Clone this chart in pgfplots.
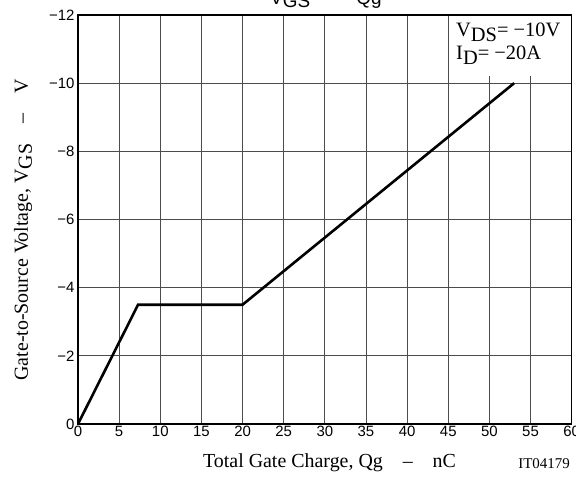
\documentclass[border=0pt]{standalone}
\usepackage{pgfplots}
\pgfplotsset{compat=1.18}
\usepackage{fontspec}
\setmainfont{Liberation Serif}
\newfontfamily\sans{Liberation Sans}
\begin{document}
\begin{tikzpicture}
\clip[use as bounding box] (-78bp,-53bp) rectangle (498bp,424bp);
\begin{axis}[
  at={(0,0)}, anchor=south west,
  scale only axis, width=493.7bp, height=409bp,
  xmin=0, xmax=60, ymin=-12, ymax=0, y dir=reverse,
  xtick={0,5,...,60},
  xticklabels={0,5,10,15,20,25,30,35,40,45,50,55,60},
  ytick={0,-2,-4,-6,-8,-10,-12},
  yticklabels={0,−2,−4,−6,−8,−10,−12},
  grid=major,
  grid style={black!70, line width=0.8bp},
  axis line style={line width=1.2bp},
  major tick length=0pt,
  tick label style={font=\sans\fontsize{15}{15}\selectfont},
  xticklabel style={yshift=1bp},
  yticklabel style={xshift=0bp},
]
\addplot[black, line width=2.6bp] coordinates {(0,0) (7.3,-3.5) (20,-3.5) (53,-10)};
\fill[white] (axis cs:45.15,-11.96) rectangle (axis cs:59.95,-10.2);
\end{axis}
\node[anchor=base west, inner sep=0pt, font=\fontsize{20.5}{20.5}\selectfont] at (378bp,387bp) {V\raisebox{-5bp}{DS}= −10V};
\node[anchor=base west, inner sep=0pt, font=\fontsize{20.5}{20.5}\selectfont] at (378bp,364bp) {I\raisebox{-5bp}{D}= −20A};
\node[anchor=base, inner sep=0pt, font=\sans\fontsize{19}{19}\selectfont] at (248bp,419bp) {V\raisebox{-3bp}{GS}\,\,\,\, –\,\,\,\, Qg};
\node[anchor=base, inner sep=0pt, font=\fontsize{20}{20}\selectfont] at (251.5bp,-43bp) {Total Gate Charge, Qg\quad–\quad nC};
\node[anchor=base east, inner sep=0pt, font=\fontsize{15}{15}\selectfont] at (492bp,-44bp) {IT04179};
\node[anchor=base, rotate=90, inner sep=0pt, font=\fontsize{20}{20}\selectfont] at (-50bp,194bp) {Gate-to-Source Voltage, V\raisebox{-4bp}{GS}\quad–\quad V};
\end{tikzpicture}
\end{document}
